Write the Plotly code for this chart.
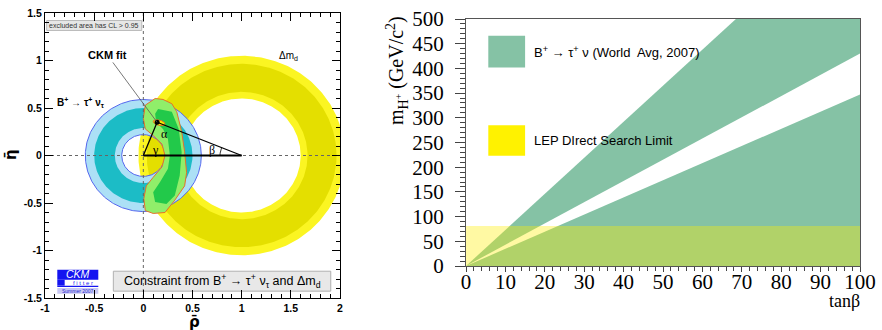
import numpy as np
import plotly.graph_objects as go

# ---------------- Left panel data (rho-bar / eta-bar plane) ----------------
dmd_center = [1.0, 0.0]
dmd_bright_radii = [0.60, 1.05]     # full bright-yellow band (inner, outer)
dmd_dark_radii = [0.67, 0.965]      # dark-yellow core (inner, outer)
btau_center = [0.0, 0.0]
btau_light_radii = [0.22, 0.59]     # light-blue band
btau_teal_radii = [0.29, 0.50]      # teal core

fit_outer_rho = [0.12, 0.20, 0.29, 0.34, 0.39, 0.42, 0.44, 0.42, 0.32, 0.22, 0.10, 0.02,
                 0.005, 0.03, 0.10, 0.19, 0.22, 0.19, 0.10, 0.02, 0.0, 0.02, 0.12]
fit_outer_eta = [0.60, 0.59, 0.545, 0.46, 0.25, 0.04, -0.18, -0.32, -0.47, -0.60, -0.61, -0.58,
                 -0.455, -0.32, -0.23, -0.12, 0.0, 0.12, 0.21, 0.28, 0.39, 0.53, 0.60]
fit_inner_rho = [0.15, 0.29, 0.36, 0.39, 0.37, 0.32, 0.235, 0.12, 0.10, 0.17, 0.25, 0.27,
                 0.25, 0.20, 0.13, 0.12, 0.15]
fit_inner_eta = [0.49, 0.46, 0.28, 0.035, -0.21, -0.42, -0.51, -0.49, -0.386, -0.28, -0.14, 0.0,
                 0.175, 0.28, 0.35, 0.44, 0.49]
apex = [0.14, 0.35]
blob_center = [0.16, 0.345]
blob_axes = [0.062, 0.028]
blob_angle_deg = -15

left_xticks = [-1, -0.5, 0, 0.5, 1, 1.5, 2]
left_xticklabels = ["-1", "-0.5", "0", "0.5", "1", "1.5", "2"]
left_yticks = [-1.5, -1, -0.5, 0, 0.5, 1, 1.5]
left_yticklabels = ["-1.5", "-1", "-0.5", "0", "0.5", "1", "1.5"]

# ---------------- Right panel data (m_H+ vs tan beta) ----------------
band_upper_tanb = [0, 68.5, 100, 100, 0]
band_upper_mh = [0, 500, 500, 430, 0]
band_lower_tanb = [0, 100, 100, 0]
band_lower_mh = [0, 347, 0, 0]
lep_limit = 81
right_xticks = [0, 10, 20, 30, 40, 50, 60, 70, 80, 90, 100]
right_yticks = [0, 50, 100, 150, 200, 250, 300, 350, 400, 450, 500]

# ---------------- colours ----------------
C_YEL = "#fbf522"
C_YEL_D = "#e4df00"
C_LBLUE = "#ace0f6"
C_TEAL = "#1cbcc6"
C_BLUE_LINE = "#5566ee"
C_LGREEN = "#90ee6a"
C_DGREEN = "#22c94a"
C_ORANGE = "#e5702a"
C_BAND = "#85c2a5"


def annulus(c, radii, n=361):
    t = np.linspace(0, 2 * np.pi, n)
    r_in, r_out = radii
    xo = c[0] + r_out * np.cos(t)
    yo = c[1] + r_out * np.sin(t)
    xi = c[0] + r_in * np.cos(t[::-1])
    yi = c[1] + r_in * np.sin(t[::-1])
    return np.concatenate([xo, xi]), np.concatenate([yo, yi])


def circle(c, r, n=361):
    t = np.linspace(0, 2 * np.pi, n)
    return c[0] + r * np.cos(t), c[1] + r * np.sin(t)


fig = go.Figure()

def fill(x, y, color, xa="x", ya="y", line_color=None, lw=0):
    fig.add_trace(go.Scatter(x=x, y=y, fill="toself", fillcolor=color, mode="lines",
                             line=dict(color=line_color or color, width=lw),
                             xaxis=xa, yaxis=ya, hoverinfo="skip", showlegend=False))

def line(x, y, color, width=1, dash=None, xa="x", ya="y"):
    fig.add_trace(go.Scatter(x=x, y=y, mode="lines",
                             line=dict(color=color, width=width, dash=dash),
                             xaxis=xa, yaxis=ya, hoverinfo="skip", showlegend=False))

# Delta m_d ring
x, y = annulus(dmd_center, dmd_bright_radii)
fill(x, y, C_YEL)
x, y = annulus(dmd_center, dmd_dark_radii)
fill(x, y, C_YEL_D)
# B -> tau nu ring
x, y = annulus(btau_center, btau_light_radii)
fill(x, y, C_LBLUE)
x, y = annulus(btau_center, btau_teal_radii)
fill(x, y, C_TEAL)
for r in btau_light_radii:
    x, y = circle(btau_center, r)
    line(x, y, C_BLUE_LINE, 1)
# CKM fit region
fill(fit_outer_rho, fit_outer_eta, C_LGREEN, line_color=C_ORANGE, lw=1)
fill(fit_inner_rho, fit_inner_eta, C_DGREEN)
# yellow best-fit blob
t = np.linspace(0, 2 * np.pi, 121)
a = np.deg2rad(blob_angle_deg)
bx = blob_center[0] + blob_axes[0] * np.cos(t) * np.cos(a) - blob_axes[1] * np.sin(t) * np.sin(a)
by = blob_center[1] + blob_axes[0] * np.cos(t) * np.sin(a) + blob_axes[1] * np.sin(t) * np.cos(a)
fill(bx, by, "#f6f000", line_color=C_ORANGE, lw=1)

# dotted axes
line([0, 0], [-1.5, 1.5], "#666", 1, "dot")
line([-1, 2], [0, 0], "#666", 1, "dot")
# unitarity triangle
line([0, 1], [0, 0], "black", 2)
line([0, apex[0], 1], [0, apex[1], 0], "black", 1.3)
tb = np.linspace(np.pi - np.arctan2(apex[1], 1 - apex[0]), np.pi, 20)
line(1 + 0.22 * np.cos(tb), 0.22 * np.sin(tb), "black", 0.8)
fig.add_trace(go.Scatter(x=[apex[0]], y=[apex[1]], mode="markers",
                         marker=dict(color="black", size=5), xaxis="x", yaxis="y",
                         hoverinfo="skip", showlegend=False))
# pointer from "CKM fit"
line([-0.31, apex[0]], [0.98, apex[1]], "#555", 0.8)

# ---------------- Right panel ----------------
fill(band_upper_tanb, band_upper_mh, C_BAND, "x2", "y2")
fill(band_lower_tanb, band_lower_mh, C_BAND, "x2", "y2")
fill([0, 100, 100, 0, 0], [0, 0, lep_limit, lep_limit, 0], "rgba(255,238,0,0.36)", "x2", "y2")

ann = []
def txt(x, y, s, size, xa="x", ya="y", family="Liberation Sans", color="black",
        xanchor="center", yanchor="middle", angle=0, pad=1):
    ann.append(dict(x=x, y=y, xref=xa, yref=ya, text=s, showarrow=False,
                    font=dict(family=family, size=size, color=color), borderpad=pad,
                    xanchor=xanchor, yanchor=yanchor, textangle=angle))

txt(-0.36, 1.06, "<b>CKM fit</b>", 11)
txt(-0.9, 0.56, "<b>B<sup>+</sup> → τ<sup>+</sup> ν<sub>τ</sub></b>", 10, xanchor="left")
txt(1.475, 1.05, "Δm<sub>d</sub>", 10)
txt(0.22, 0.23, "α", 12, family="Liberation Serif")
txt(0.7, 0.06, "β", 12, family="Liberation Serif")
txt(0.12, 0.06, "γ", 12, family="Liberation Serif")
txt(-0.5, 1.368, "excluded area has CL > 0.95", 7, color="#333")
txt(0.8, -1.323, "Constraint from B<sup>+</sup> → τ<sup>+</sup> ν<sub>τ</sub> and Δm<sub>d</sub>", 12.5)
txt(-0.667, -1.245, "<i>CKM</i>", 10.5, color="white", pad=0)
txt(-0.615, -1.342, "f i t t e r", 6, color="#1f1ff0", pad=0)
txt(-0.667, -1.428, "Summer 2007", 5, color="#2a2ad0", pad=0)

# right panel texts
txt(16.8, 434, "B<sup>+</sup> → τ<sup>+</sup> ν (World  Avg, 2007)", 13, "x2", "y2", xanchor="left")
txt(16.8, 254, "LEP DIrect Search Limit", 13, "x2", "y2", xanchor="left")
ann.append(dict(x=862 / 882, y=1 - 301 / 330, xref="paper", yref="paper", text="tanβ",
                showarrow=False, font=dict(family="Liberation Serif", size=18, color="black"),
                xanchor="right", yanchor="middle"))
ann.append(dict(x=397 / 882, y=1 - 71 / 330, xref="paper", yref="paper",
                text="m<sub>H<sup>+</sup></sub> (GeV/c<sup>2</sup>)", showarrow=False,
                font=dict(family="Liberation Serif", size=20, color="black"),
                xanchor="center", yanchor="middle", textangle=-90))
ann.append(dict(x=194 / 882, y=1 - 322 / 330, xref="paper", yref="paper", text="<b>ρ̄</b>",
                showarrow=False, font=dict(family="DejaVu Sans", size=15, color="black"),
                xanchor="center", yanchor="middle"))
ann.append(dict(x=11 / 882, y=1 - 155 / 330, xref="paper", yref="paper", text="<b>η̄</b>",
                showarrow=False, font=dict(family="DejaVu Sans", size=15, color="black"),
                xanchor="center", yanchor="middle", textangle=-90))

shapes = [
    # top-left legend box
    dict(type="rect", xref="x", yref="y", x0=-0.983, x1=-0.016, y0=1.316, y1=1.421,
         fillcolor="#e6e6e6", line=dict(color="#bbbbbb", width=1), layer="below"),
    # bottom caption box
    dict(type="rect", xref="x", yref="y", x0=-0.305, x1=1.906, y0=-1.428, y1=-1.218,
         fillcolor="#e8e8e8", line=dict(color="#b0b0b0", width=1), layer="below"),
    # CKMfitter logo
    dict(type="rect", xref="x", yref="y", x0=-0.875, x1=-0.458, y0=-1.308, y1=-1.203,
         fillcolor="#1414f0", line=dict(width=0), layer="below"),
    dict(type="rect", xref="x", yref="y", x0=-0.875, x1=-0.80, y0=-1.37, y1=-1.308,
         fillcolor="#1414f0", line=dict(width=0), layer="below"),
    dict(type="rect", xref="x", yref="y", x0=-0.875, x1=-0.458, y0=-1.385, y1=-1.372,
         fillcolor="#1414f0", line=dict(width=0), layer="below"),
    dict(type="rect", xref="x", yref="y", x0=-0.875, x1=-0.458, y0=-1.456, y1=-1.395,
         fillcolor="#c8c8f4", line=dict(width=0), layer="below"),
    # right panel legend boxes
    dict(type="rect", xref="x2", yref="y2", x0=5.66, x1=15.0, y0=402, y1=466,
         fillcolor=C_BAND, line=dict(width=0)),
    dict(type="rect", xref="x2", yref="y2", x0=5.66, x1=15.0, y0=223, y1=285,
         fillcolor="#fff200", line=dict(width=0)),
]

tickfont_l = dict(family="Liberation Sans", size=10.5, color="black", weight="bold")
tickfont_r = dict(family="Liberation Serif", size=21, color="black")

fig.update_layout(
    template="none",
    width=882, height=330, margin=dict(l=0, r=0, t=0, b=0, pad=0, autoexpand=False),
    paper_bgcolor="white", plot_bgcolor="white", showlegend=False,
    annotations=ann, shapes=shapes,
    xaxis=dict(domain=[45 / 882, 340 / 882], range=[-1, 2], anchor="y", automargin=False,
               showgrid=False, zeroline=False, showline=True, linecolor="black", linewidth=1,
               mirror="allticks", ticks="inside", ticklen=8, tickcolor="black",
               tickvals=left_xticks, ticktext=left_xticklabels, tickfont=tickfont_l,
               minor=dict(dtick=0.1, ticks="inside", ticklen=4, tickcolor="black", showgrid=False)),
    yaxis=dict(domain=[1 - 298 / 330, 1 - 13 / 330], range=[-1.5, 1.5], anchor="x", automargin=False,
               showgrid=False, zeroline=False, showline=True, linecolor="black", linewidth=1,
               mirror="allticks", ticks="inside", ticklen=8, tickcolor="black",
               tickvals=left_yticks, ticktext=left_yticklabels, tickfont=tickfont_l,
               minor=dict(dtick=0.1, ticks="inside", ticklen=4, tickcolor="black", showgrid=False)),
    xaxis2=dict(domain=[466 / 882, 860 / 882], range=[0, 100], anchor="y2", automargin=False,
                showgrid=False, zeroline=False, showline=True, linecolor="#555", linewidth=1,
                mirror=True, ticks="outside", ticklen=5, tickcolor="#444",
                tickvals=right_xticks, tickfont=tickfont_r, ticklabelstandoff=-8,
                minor=dict(dtick=2, ticks="outside", ticklen=4, tickcolor="#444", showgrid=False)),
    yaxis2=dict(domain=[1 - 266 / 330, 1 - 19 / 330], range=[0, 500], anchor="x2", automargin=False,
                showgrid=False, zeroline=False, showline=True, linecolor="#555", linewidth=1,
                mirror=True, ticks="outside", ticklen=10, tickcolor="#444",
                tickvals=right_yticks, tickfont=tickfont_r, ticklabelstandoff=7,
                minor=dict(dtick=10, ticks="outside", ticklen=5, tickcolor="#444", showgrid=False)),
)

fig.write_html("out.html", config={"displayModeBar": False},
               post_script="document.body.style.margin='0';")
